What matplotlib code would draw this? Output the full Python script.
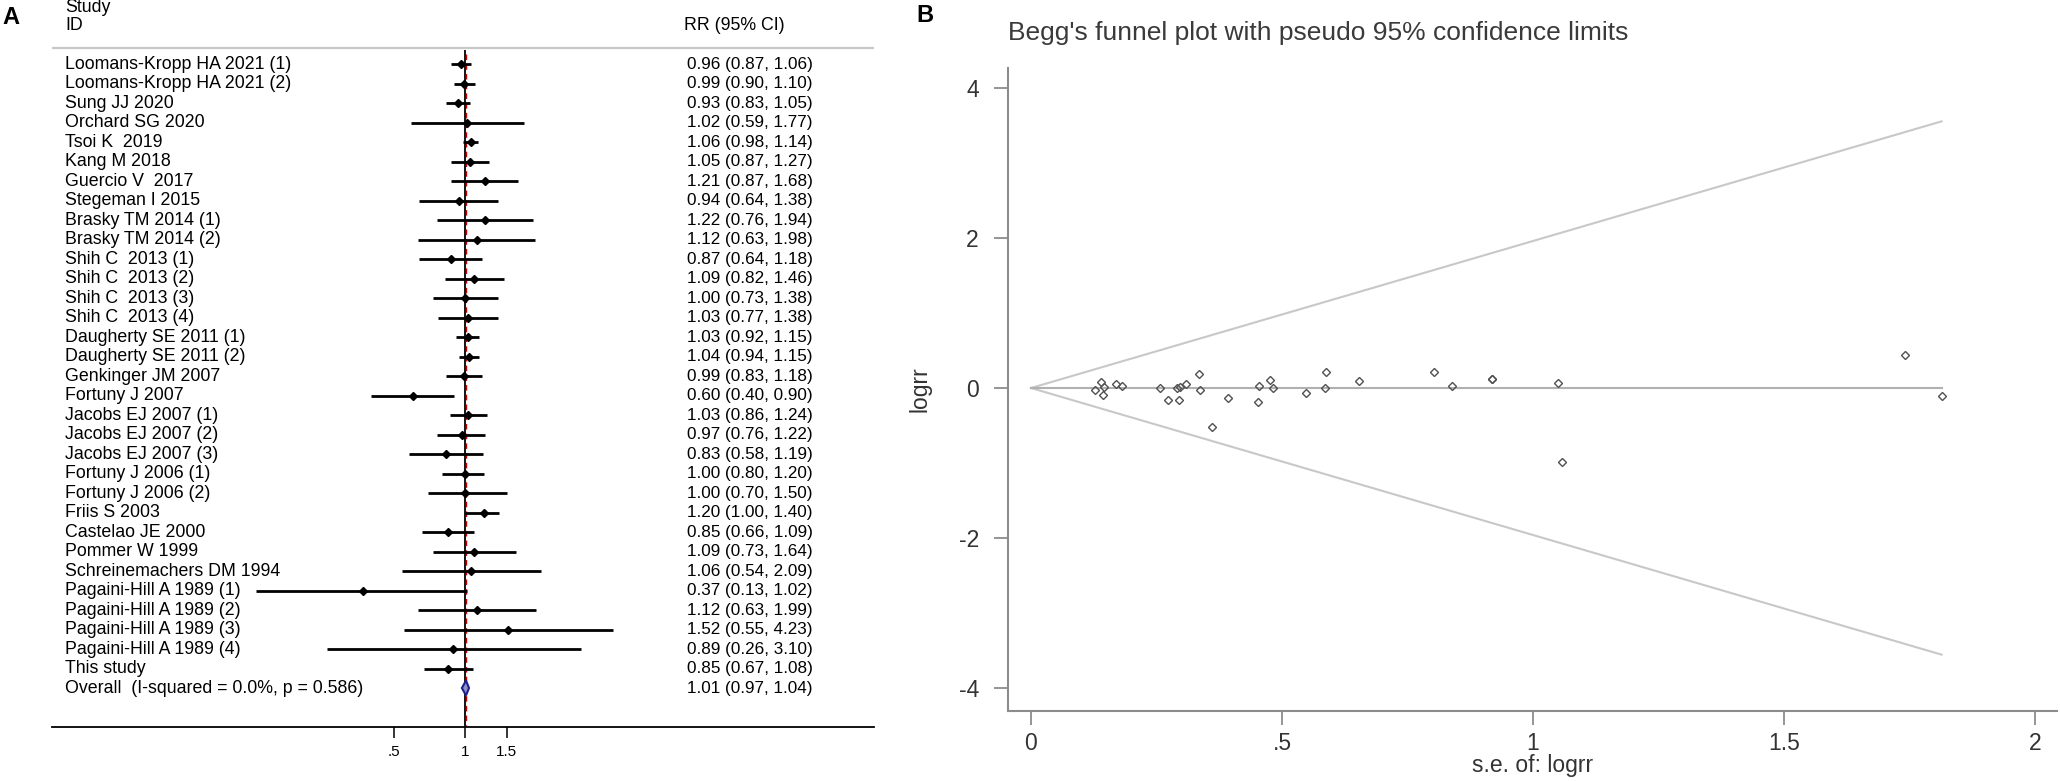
import matplotlib.pyplot as plt
import matplotlib.transforms as mtransforms
from matplotlib.ticker import NullLocator
import numpy as np

plt.rcParams['font.family'] = ['Liberation Sans', 'DejaVu Sans']

# ---- panel A data (forest plot) ----
studies = [
    'Loomans-Kropp HA 2021 (1)', 'Loomans-Kropp HA 2021 (2)', 'Sung JJ 2020',
    'Orchard SG 2020', 'Tsoi K  2019', 'Kang M 2018', 'Guercio V  2017',
    'Stegeman I 2015', 'Brasky TM 2014 (1)', 'Brasky TM 2014 (2)',
    'Shih C  2013 (1)', 'Shih C  2013 (2)', 'Shih C  2013 (3)', 'Shih C  2013 (4)',
    'Daugherty SE 2011 (1)', 'Daugherty SE 2011 (2)', 'Genkinger JM 2007',
    'Fortuny J 2007', 'Jacobs EJ 2007 (1)', 'Jacobs EJ 2007 (2)',
    'Jacobs EJ 2007 (3)', 'Fortuny J 2006 (1)', 'Fortuny J 2006 (2)',
    'Friis S 2003', 'Castelao JE 2000', 'Pommer W 1999',
    'Schreinemachers DM 1994', 'Pagaini-Hill A 1989 (1)',
    'Pagaini-Hill A 1989 (2)', 'Pagaini-Hill A 1989 (3)',
    'Pagaini-Hill A 1989 (4)', 'This study',
]
rr = [0.96, 0.99, 0.93, 1.02, 1.06, 1.05, 1.21, 0.94, 1.22, 1.12,
      0.87, 1.09, 1.00, 1.03, 1.03, 1.04, 0.99, 0.60, 1.03, 0.97,
      0.83, 1.00, 1.00, 1.20, 0.85, 1.09, 1.06, 0.37, 1.12, 1.52,
      0.89, 0.85]
ci_low = [0.87, 0.90, 0.83, 0.59, 0.98, 0.87, 0.87, 0.64, 0.76, 0.63,
          0.64, 0.82, 0.73, 0.77, 0.92, 0.94, 0.83, 0.40, 0.86, 0.76,
          0.58, 0.80, 0.70, 1.00, 0.66, 0.73, 0.54, 0.13, 0.63, 0.55,
          0.26, 0.67]
ci_high = [1.06, 1.10, 1.05, 1.77, 1.14, 1.27, 1.68, 1.38, 1.94, 1.98,
           1.18, 1.46, 1.38, 1.38, 1.15, 1.15, 1.18, 0.90, 1.24, 1.22,
           1.19, 1.20, 1.50, 1.40, 1.09, 1.64, 2.09, 1.02, 1.99, 4.23,
           3.10, 1.08]
overall_label = 'Overall  (I-squared = 0.0%, p = 0.586)'
overall_rr, overall_lo, overall_hi = 1.01, 0.97, 1.04
forest_ticks = [0.5, 1, 1.5]
forest_ticklabels = ['.5', '1', '1.5']

# ---- panel B data (Begg's funnel plot) ----
funnel_se = [0.127, 0.139, 0.143, 0.146, 0.169, 0.181, 0.258, 0.272,
             0.290, 0.297, 0.295, 0.309, 0.335, 0.337, 0.360, 0.392,
             0.452, 0.454, 0.476, 0.483, 0.547, 0.586, 0.588, 0.654,
             0.802, 0.838, 0.918, 0.918, 1.049, 1.058, 1.742, 1.814]
funnel_logrr = [-0.030, 0.075, -0.100, 0.010, 0.049, 0.025, 0.000, -0.160,
                0.005, 0.018, -0.160, 0.049, 0.190, -0.027, -0.516, -0.129,
                -0.182, 0.025, 0.107, 0.005, -0.062, 0.004, 0.209, 0.093,
                0.213, 0.033, 0.118, 0.118, 0.067, -0.987, 0.440, -0.107]
funnel_se_max = 1.814
pooled_logrr = 0.0

W, H = 2060, 781
fig = plt.figure(figsize=(W / 100, H / 100), dpi=100)


def px_box(l, t, r, b):
    return [l / W, 1 - b / H, (r - l) / W, (b - t) / H]


# ================= panel A =================
axA = fig.add_axes(px_box(52, 0, 874, 727))
axA.set_xscale('log')
row0, dy = 64, 19.5
axA.set_ylim((727 - row0) / dy, -row0 / dy)
axA.set_xlim(np.exp((52 - 465) / 102.5), np.exp((874 - 465) / 102.5))

n = len(studies)
ys = np.arange(n)
axA.hlines(ys, ci_low, ci_high, color='black', lw=2.0, zorder=3)
axA.plot(rr, ys, 'D', color='black', ms=3.6, zorder=4)

ov_y = n
axA.fill([overall_lo, overall_rr, overall_hi, overall_rr],
         [ov_y, ov_y - 0.38, ov_y, ov_y + 0.38],
         fc='#9090c8', ec='#1f1f8f', lw=1.5, zorder=4)

ybot = (727 - row0) / dy
axA.vlines(1, -0.7, ybot, color='black', lw=1.3, zorder=2)
axA.vlines(overall_rr, -0.5, ybot, colors='#c00000', linestyles=(0, (4, 3)),
           lw=1, zorder=2)
axA.axhline(-0.8, color='#c8c8c8', lw=1.6)

for s in ['top', 'left', 'right']:
    axA.spines[s].set_visible(False)
axA.spines['bottom'].set_color('black')
axA.spines['bottom'].set_linewidth(1.3)
axA.set_yticks([])
axA.set_xticks(forest_ticks)
axA.set_xticklabels(forest_ticklabels)
axA.xaxis.set_minor_locator(NullLocator())
axA.tick_params(axis='x', length=8, width=1.1, labelsize=11, pad=5)

trA = mtransforms.blended_transform_factory(axA.transAxes, axA.transData)
lab_x = (65 - 52) / 822
rr_x = (813 - 52) / 822
fs = 12.8
for i in range(n):
    axA.text(lab_x, i, studies[i], transform=trA, va='center', ha='left',
             fontsize=fs)
    axA.text(rr_x, i, f'{rr[i]:.2f} ({ci_low[i]:.2f}, {ci_high[i]:.2f})',
             transform=trA, va='center', ha='right', fontsize=12.3)
axA.text(lab_x, ov_y, overall_label, transform=trA, va='center', ha='left',
         fontsize=fs)
axA.text(rr_x, ov_y, f'{overall_rr:.2f} ({overall_lo:.2f}, {overall_hi:.2f})',
         transform=trA, va='center', ha='right', fontsize=12.3)
axA.text(lab_x, -2.9, 'Study', transform=trA, va='center', ha='left', fontsize=fs)
axA.text(lab_x, -2.0, 'ID', transform=trA, va='center', ha='left', fontsize=fs)
axA.text((684 - 52) / 822, -2.0, 'RR (95% CI)', transform=trA, va='center',
         ha='left', fontsize=fs)

fig.text(11 / W, 1 - 17 / H, 'A', fontsize=17, fontweight='bold',
         ha='center', va='center')

# ================= panel B =================
axB = fig.add_axes(px_box(1008, 68, 2057, 711))
axB.set_xlim(-0.0458, 2.044)
axB.set_ylim(-4.307, 4.267)

se_line = np.array([0, funnel_se_max])
axB.plot(se_line, pooled_logrr + 1.96 * se_line, color='#c8c8c8', lw=1.5)
axB.plot(se_line, pooled_logrr - 1.96 * se_line, color='#c8c8c8', lw=1.5)
axB.plot(se_line, [pooled_logrr, pooled_logrr], color='#b0b0b0', lw=1.5)
axB.plot(funnel_se, funnel_logrr, 'D', ms=4, mfc='none', mec='#505050',
         mew=1, linestyle='none')

for s in ['top', 'right']:
    axB.spines[s].set_visible(False)
for s in ['left', 'bottom']:
    axB.spines[s].set_color('#8c8c8c')
    axB.spines[s].set_linewidth(1.5)
axB.set_xticks([0, 0.5, 1, 1.5, 2])
axB.set_xticklabels(['0', '.5', '1', '1.5', '2'])
axB.set_yticks([-4, -2, 0, 2, 4])
axB.set_yticklabels(['-4', '-2', '0', '2', '4'])
axB.tick_params(colors='#8c8c8c', labelcolor='#333333', labelsize=16.5,
                length=10, width=1.3)
axB.tick_params(axis='x', pad=5)
axB.tick_params(axis='y', pad=11)

axB.set_ylabel('logrr', fontsize=16.5, color='#333333')
axB.yaxis.set_label_coords(-0.0734, 0.5)
axB.set_xlabel('s.e. of: logrr', fontsize=16.5, color='#333333')
axB.xaxis.set_label_coords(0.5, -0.0669)

fig.text(1008 / W, 1 - 33 / H, "Begg's funnel plot with pseudo 95% confidence limits",
         fontsize=19, color='#3a3a3a', ha='left', va='center')
fig.text(925 / W, 1 - 16 / H, 'B', fontsize=17, fontweight='bold',
         ha='center', va='center')

fig.savefig('out.png', dpi=100)
